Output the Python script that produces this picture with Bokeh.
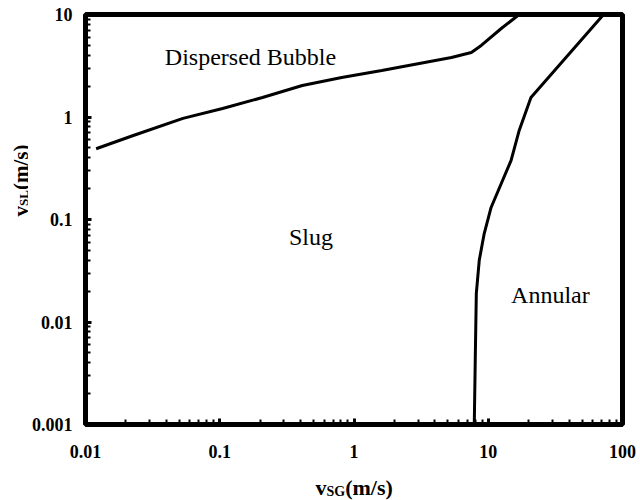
from bokeh.plotting import figure
from bokeh.layouts import column, row
from bokeh.models import Range1d, FixedTicker, CustomJSTickFormatter, Label
from bokeh.embed import file_html
from bokeh.resources import INLINE

# Flow-pattern transition boundaries (superficial velocities, m/s)
bubble_vsg = [0.012, 0.0227, 0.0532, 0.105, 0.208, 0.412, 0.81, 1.61, 5.32, 7.48, 8.87, 12.5, 17.0]
bubble_vsl = [0.49, 0.66, 0.97, 1.21, 1.55, 2.03, 2.43, 2.84, 3.80, 4.26, 4.99, 7.3, 10.0]

annular_vsg = [7.87, 8.0, 8.15, 8.57, 9.33, 10.5, 14.8, 17.0, 20.8, 72.3]
annular_vsl = [0.001, 0.0042, 0.019, 0.040, 0.073, 0.131, 0.377, 0.74, 1.55, 10.0]

# Region names and where they sit
region_names = ["Dispersed Bubble", "Slug", "Annular"]
region_vsg = [0.039, 0.328, 14.8]
region_vsl = [3.89, 0.0672, 0.01815]

x_major = [0.01, 0.1, 1, 10, 100]
y_major = [0.001, 0.01, 0.1, 1, 10]

SERIF = "Liberation Serif"
STRIP_W, MAIN_W, MAIN_H, STRIP_H = 28, 612, 470, 30

p = figure(width=MAIN_W, height=MAIN_H, x_axis_type="log", y_axis_type="log",
           x_range=Range1d(0.01, 100), y_range=Range1d(0.001, 10),
           output_backend="svg", toolbar_location=None,
           min_border_left=54, min_border_right=18,
           min_border_top=14, min_border_bottom=46)

p.background_fill_color = "white"
p.border_fill_color = "white"
p.outline_line_color = "black"
p.outline_line_width = 5
p.xgrid.visible = False
p.ygrid.visible = False


def minor_list(majors):
    out = []
    for m in majors[:-1]:
        out += [k * m for k in range(2, 10)]
    return out


p.xaxis.ticker = FixedTicker(ticks=x_major, minor_ticks=minor_list(x_major))
p.yaxis.ticker = FixedTicker(ticks=y_major, minor_ticks=minor_list(y_major))

fmt = "return String(parseFloat(tick.toPrecision(6)));"
for ax in (p.xaxis[0], p.yaxis[0]):
    ax.formatter = CustomJSTickFormatter(code=fmt)
    ax.axis_line_color = None
    ax.major_tick_in = 6
    ax.major_tick_out = 0
    ax.minor_tick_in = 5
    ax.minor_tick_out = 0
    ax.major_tick_line_width = 3
    ax.minor_tick_line_width = 2
    ax.major_tick_line_color = "black"
    ax.minor_tick_line_color = "black"
    ax.major_label_text_font = SERIF
    ax.major_label_text_font_style = "bold"
    ax.major_label_text_font_size = "18px"
    ax.major_label_text_color = "black"

p.xaxis.major_label_standoff = 20
p.yaxis.major_label_standoff = 13

# Boundaries
p.line(bubble_vsg, bubble_vsl, line_color="black", line_width=3)
p.line(annular_vsg, annular_vsl, line_color="black", line_width=3)

# Region names
for name, xv, yv in zip(region_names, region_vsg, region_vsl):
    p.add_layout(Label(x=xv, y=yv, text=name, text_font=SERIF,
                       text_font_size="24px", text_color="black",
                       text_align="left", text_baseline="alphabetic"))


def strip(w, h):
    s = figure(width=w, height=h, x_range=Range1d(0, 1), y_range=Range1d(0, 1),
               output_backend="svg", toolbar_location=None, min_border=0,
               x_axis_location=None, y_axis_location=None)
    s.outline_line_color = None
    s.background_fill_color = "white"
    s.border_fill_color = "white"
    for g in s.grid:
        g.visible = False
    return s


# Axis titles with subscripts
def axis_title(fig, parts, x0, y0, vertical):
    pos = 0.0
    for txt, size, shift, w in parts:
        if vertical:
            lx, ly, ang = x0 + shift, y0 + pos, 1.5707963
        else:
            lx, ly, ang = x0 + pos, y0 - shift, 0.0
        fig.add_layout(Label(x=lx, y=ly, x_units="screen", y_units="screen",
                             text=txt, angle=ang, text_font=SERIF,
                             text_font_style="bold", text_font_size=f"{size}px",
                             text_color="black", text_align="left",
                             text_baseline="alphabetic"))
        pos += w


x_parts = [("v", 22, 0, 0.5 * 22), ("SG", 14, 4, 1.334 * 14),
           ("(m/s)", 22, 0, 2.166 * 22)]
y_parts = [("v", 21, 0, 0.5 * 21), ("SL", 13, 2.5, 1.223 * 13),
           ("(m/s)", 21, 0, 2.166 * 21)]

left = strip(STRIP_W, MAIN_H)
bottom = strip(STRIP_W + MAIN_W, STRIP_H)
axis_title(left, y_parts, 20.5, MAIN_H - 262, vertical=True)
axis_title(bottom, x_parts, 315, STRIP_H + MAIN_H - 487, vertical=False)

layout = column(row(left, p), bottom)

open("out.html", "w").write(file_html(layout, INLINE))
